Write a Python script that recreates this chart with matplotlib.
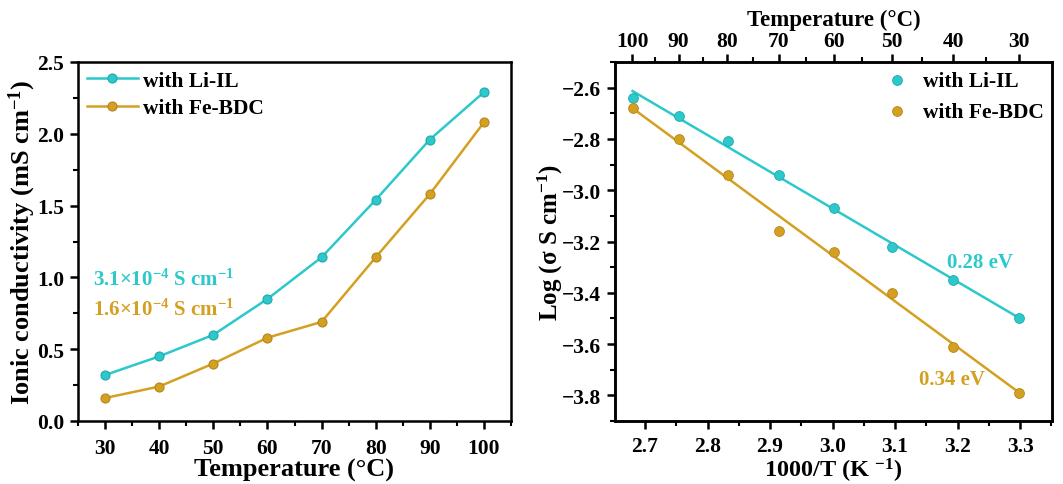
import numpy as np
import matplotlib
matplotlib.use('Agg')
import matplotlib.pyplot as plt
from matplotlib.ticker import MultipleLocator, FixedLocator

plt.rcParams['font.family'] = ['Liberation Serif', 'DejaVu Serif']
plt.rcParams['font.weight'] = 'bold'
plt.rcParams['axes.labelweight'] = 'bold'
plt.rcParams['mathtext.fontset'] = 'custom'
plt.rcParams['mathtext.rm'] = 'Liberation Serif:bold'
plt.rcParams['mathtext.bf'] = 'Liberation Serif:bold'
plt.rcParams['mathtext.default'] = 'bf'

# data
temps = [30, 40, 50, 60, 70, 80, 90, 100]
sigma_li = [0.32, 0.45, 0.60, 0.85, 1.14, 1.54, 1.96, 2.29]
sigma_fe = [0.16, 0.24, 0.40, 0.58, 0.69, 1.14, 1.58, 2.08]

inv_T = [2.680, 2.754, 2.832, 2.915, 3.002, 3.095, 3.193, 3.299]
log_li = [-2.64, -2.71, -2.81, -2.94, -3.07, -3.22, -3.35, -3.50]
log_fe = [-2.68, -2.80, -2.94, -3.16, -3.24, -3.40, -3.61, -3.79]

top_temps = [100, 90, 80, 70, 60, 50, 40, 30]
top_minor = [95, 85, 75, 65, 55, 45, 35]

cyan = '#2CC8CB'
gold = '#D4A021'

fig = plt.figure(figsize=(10.63, 4.85), dpi=100)
W, H = 1063, 485
ax1 = fig.add_axes([78 / W, (H - 422) / H, (511 - 78) / W, (422 - 63) / H])
ax2 = fig.add_axes([615 / W, (H - 422) / H, (1052 - 615) / W, (422 - 63) / H])

# left panel
ax1.plot(temps, sigma_li, '-o', color=cyan, lw=1.8, ms=6.5, mec='#1FA9AC', mew=0.8, label='with Li-IL')
ax1.plot(temps, sigma_fe, '-o', color=gold, lw=1.8, ms=6.5, mec='#B5861A', mew=0.8, label='with Fe-BDC')
ax1.set_xlim(25, 105)
ax1.set_ylim(0, 2.5)
ax1.xaxis.set_major_locator(MultipleLocator(10))
ax1.xaxis.set_minor_locator(MultipleLocator(5))
ax1.yaxis.set_major_locator(MultipleLocator(0.5))
ax1.yaxis.set_minor_locator(MultipleLocator(0.25))
ax1.set_xlabel('Temperature (°C)', fontsize=19, labelpad=0)
ax1.set_ylabel('Ionic conductivity (mS cm$^{-1}$)', fontsize=19, labelpad=-1)
ax1.legend(loc='upper left', frameon=False, fontsize=15.5, handlelength=2.4, handletextpad=0.2,
           borderaxespad=0.1, borderpad=0.3, labelspacing=0.35)
ax1.text(27.8, 0.99, '3.1×10$^{-4}$ S cm$^{-1}$', color=cyan, fontsize=15, va='center')
ax1.text(27.8, 0.78, '1.6×10$^{-4}$ S cm$^{-1}$', color=gold, fontsize=15, va='center')

# right panel
ax2.scatter(inv_T, log_li, s=50, color=cyan, edgecolor='#1FA9AC', lw=0.6, zorder=3, label='with Li-IL')
ax2.scatter(inv_T, log_fe, s=50, color=gold, edgecolor='#B5861A', lw=0.6, zorder=3, label='with Fe-BDC')
xs = np.array([inv_T[0], inv_T[-1]])
p_li = np.polyfit(inv_T, log_li, 1)
p_fe = np.polyfit(inv_T, log_fe, 1)
ax2.plot(xs, np.polyval(p_li, xs), color=cyan, lw=1.8)
ax2.plot(xs, np.polyval(p_fe, xs), color=gold, lw=1.8)
ax2.set_xlim(2.652, 3.351)
ax2.set_ylim(-3.9, -2.5)
ax2.xaxis.set_major_locator(MultipleLocator(0.1))
ax2.xaxis.set_minor_locator(MultipleLocator(0.05))
ax2.yaxis.set_major_locator(MultipleLocator(0.2))
ax2.yaxis.set_minor_locator(MultipleLocator(0.1))
ax2.set_xlabel('1000/T (K $^{-1}$)', fontsize=17.5, labelpad=0)
ax2.set_ylabel('Log (σ S cm$^{-1}$)', fontsize=18, labelpad=-2)
ax2.legend(loc='upper right', frameon=False, fontsize=15.5, handletextpad=0.6, handlelength=1.2,
           borderaxespad=0.0, labelspacing=0.5, scatterpoints=1)
ax2.text(3.236, -3.28, '0.28 eV', color=cyan, fontsize=15, ha='center', va='center')
ax2.text(3.191, -3.735, '0.34 eV', color=gold, fontsize=15, ha='center', va='center')

top = ax2.twiny()
top.set_xlim(ax2.get_xlim())
top.xaxis.set_major_locator(FixedLocator([1000 / (t + 273.15) for t in top_temps]))
top.xaxis.set_minor_locator(FixedLocator([1000 / (t + 273.15) for t in top_minor]))
top.set_xticklabels([str(t) for t in top_temps])
top.set_xlabel('Temperature (°C)', fontsize=16.5, labelpad=4)

for ax in (ax1, ax2, top):
    for s in ax.spines.values():
        s.set_linewidth(1.8)
    ax.tick_params(which='major', direction='out', length=6, width=1.8, labelsize=15.5, pad=4)
    ax.tick_params(which='minor', direction='out', length=3.5, width=1.5)
    for lab in ax.get_xticklabels() + ax.get_yticklabels():
        lab.set_fontweight('bold')

ax1.tick_params(which='both', top=False, right=False)
ax2.tick_params(which='both', top=False, right=False)
ax1.tick_params(axis='x', pad=6)
ax2.tick_params(axis='x', pad=5)
top.tick_params(axis='x', pad=2)

fig.savefig('out.png', dpi=100)
